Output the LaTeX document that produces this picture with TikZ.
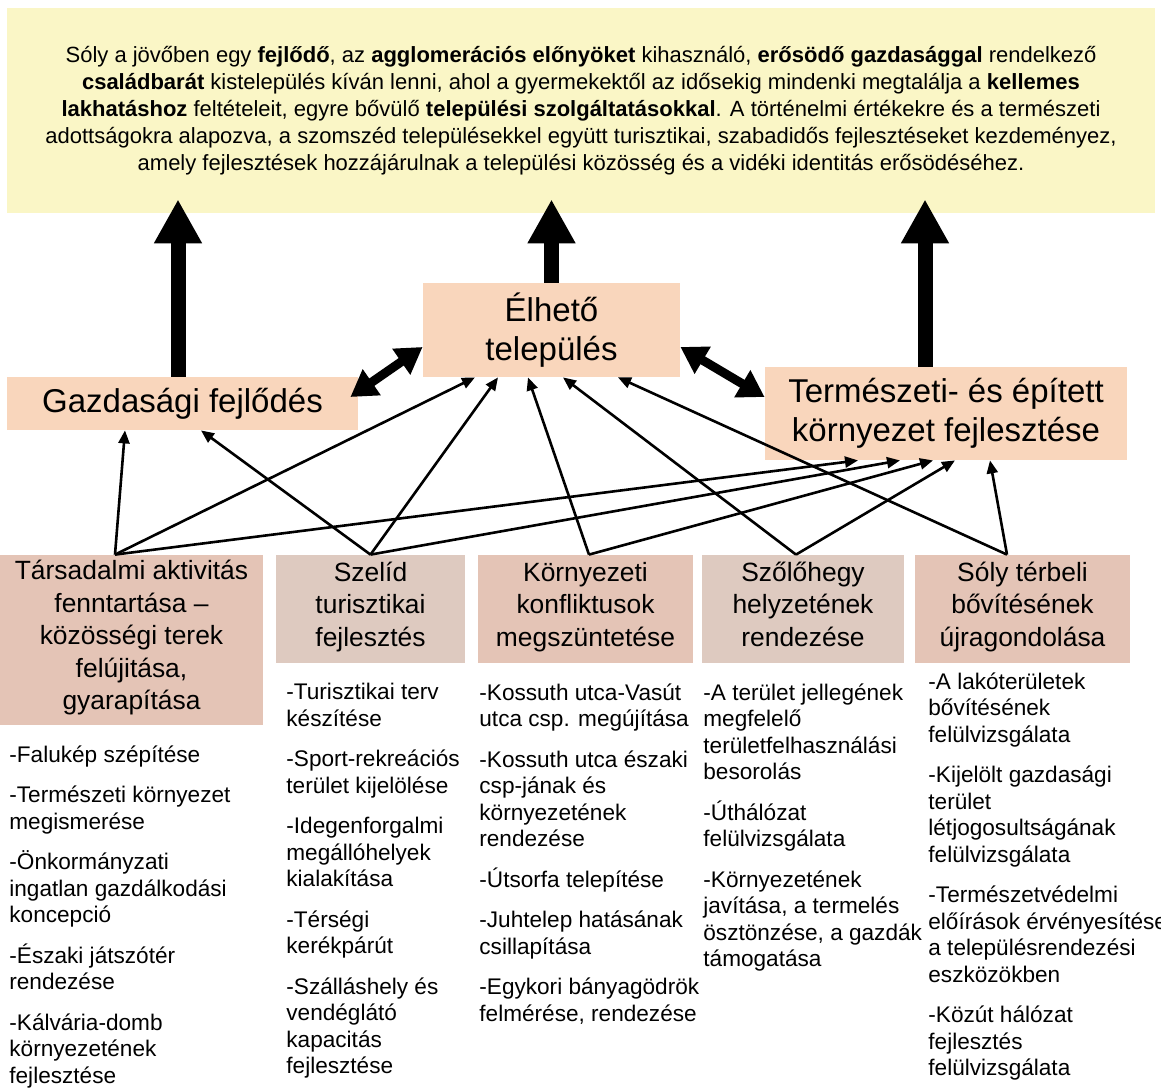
\documentclass[tikz,border=0pt]{standalone}
\usepackage{fontspec}
\setmainfont{Liberation Sans}
\usetikzlibrary{arrows.meta}
\definecolor{visionbg}{RGB}{250,246,198}
\definecolor{aimbg}{RGB}{249,214,188}
\definecolor{progbg}{RGB}{228,196,182}
\definecolor{progbgalt}{RGB}{222,202,192}

\begin{document}
\begin{tikzpicture}[x=0.5pt, y=-0.5pt,
    vision/.style = {fill=visionbg, minimum width=574pt, minimum height=102.5pt,
        inner sep=0pt, align=center, font=\fontsize{11}{13.5}\selectfont},
    aim/.style = {fill=aimbg, inner sep=0pt, align=center,
        font=\fontsize{16.5}{19.5}\selectfont},
    prog/.style = {fill=progbg, inner sep=0pt, align=center, minimum height=54pt,
        font=\fontsize{13.2}{16.25}\selectfont,
        execute at begin node=\strut, execute at end node=\strut},
    tasks/.style = {anchor=north west, inner sep=0pt, align=left,
        font=\fontsize{11.3}{13.25}\selectfont},
    link/.style = {-{Triangle[width=5.5pt,length=6.5pt]}, line width=1.3pt},
    mutual/.style = {{Triangle[width=15pt,length=13pt]}-{Triangle[width=15pt,length=13pt]},
        line width=4.5pt},
    lift/.style = {-{Triangle[width=22.5pt,length=22pt]}, line width=7.5pt,
        shorten >=-7pt}]
\useasboundingbox (0,0) rectangle (1161,1091);

\node[vision] (vision) at (581,110.5) {Sóly a jövőben egy \textbf{fejlődő}, az
    \textbf{agglomerációs előnyöket} kihasználó, \textbf{erősödő gazdasággal} rendelkező\\
    \textbf{családbarát} kistelepülés kíván lenni, ahol a gyermekektől az idősekig mindenki
    megtalálja a \textbf{kellemes}\\
    \textbf{lakhatáshoz} feltételeit, egyre bővülő \textbf{települési szolgáltatásokkal}.
    A történelmi értékekre és a természeti\\
    adottságokra alapozva, a szomszéd településekkel együtt turisztikai, szabadidős
    fejlesztéseket kezdeményez,\\
    amely fejlesztések hozzájárulnak a települési közösség és a vidéki identitás erősödéséhez.};

\node[aim, minimum width=175.5pt, minimum height=26.5pt] (gazd) at (182.5,403.5) {Gazdasági fejlődés};
\node[aim, minimum width=128.5pt, minimum height=47pt] (elh) at (551.5,330) {Élhető\\település};
\node[aim, minimum width=181pt, minimum height=46.5pt] (term) at (946,413.5)
    {Természeti- és épített\\környezet fejlesztése};

\node[prog, minimum width=131.5pt, minimum height=85pt] (tars) at (131.5,640)
    {Társadalmi aktivitás\\fenntartása –\\közösségi terek\\felújitása,\\gyarapítása};
\node[prog, fill=progbgalt, minimum width=94.5pt] (szel) at (370.5,609) {Szelíd\\turisztikai\\fejlesztés};
\node[prog, minimum width=107.5pt] (korny) at (585.5,609) {Környezeti\\konfliktusok\\megszüntetése};
\node[prog, fill=progbgalt, minimum width=101pt] (szolo) at (803,609) {Szőlőhegy\\helyzetének\\rendezése};
\node[prog, minimum width=107.5pt] (soly) at (1022.5,609) {Sóly térbeli\\bővítésének\\újragondolása};

\node[tasks] (tars list) at (9,745) {-Falukép szépítése\\[7pt]
    -Természeti környezet\\megismerése\\[7pt]
    -Önkormányzati\\ingatlan gazdálkodási\\koncepció\\[7pt]
    -Északi játszótér\\rendezése\\[7pt]
    -Kálvária-domb\\környezetének\\fejlesztése};
\node[tasks] (szel list) at (286,683) {-Turisztikai terv\\készítése\\[7pt]
    -Sport-rekreációs\\terület kijelölése\\[7pt]
    -Idegenforgalmi\\megállóhelyek\\kialakítása\\[7pt]
    -Térségi\\kerékpárút\\[7pt]
    -Szálláshely és\\vendéglátó\\kapacitás\\fejlesztése};
\node[tasks] (korny list) at (479,683) {-Kossuth utca-Vasút\\utca csp. megújítása\\[7pt]
    -Kossuth utca északi\\csp-jának és\\környezetének\\rendezése\\[7pt]
    -Útsorfa telepítése\\[7pt]
    -Juhtelep hatásának\\csillapítása\\[7pt]
    -Egykori bányagödrök\\felmérése, rendezése};
\node[tasks] (szolo list) at (703,683) {-A terület jellegének\\megfelelő\\területfelhasználási\\besorolás\\[7pt]
    -Úthálózat\\felülvizsgálata\\[7pt]
    -Környezetének\\javítása, a termelés\\ösztönzése, a gazdák\\támogatása};
\node[tasks] (soly list) at (928,672) {-A lakóterületek\\bővítésének\\felülvizsgálata\\[7pt]
    -Kijelölt gazdasági\\terület\\létjogosultságának\\felülvizsgálata\\[7pt]
    -Természetvédelmi\\előírások érvényesítése\\a településrendezési\\eszközökben\\[7pt]
    -Közút hálózat\\fejlesztés\\felülvizsgálata};

\draw[lift] ([xshift=-2.25pt]gazd.north) -- ([xshift=-2.25pt]gazd.north |- vision.south);
\draw[lift] (elh.north) -- (elh.north |- vision.south);
\draw[lift] ([xshift=-10.5pt]term.north) -- ([xshift=-10.5pt]term.north |- vision.south);

\draw[mutual] ([xshift=-4pt,yshift=3.25pt]gazd.east) -- ([yshift=-8.5pt]elh.west);
\draw[mutual] ([yshift=-8.5pt]elh.east) -- ([yshift=8.25pt]term.west);

\draw[link] ([xshift=-8.25pt]tars.north) -- ([xshift=-28.75pt]gazd.south);
\draw[link] ([xshift=-8.25pt]tars.north) -- ([xshift=-38.25pt]elh.south);
\draw[link] ([xshift=-8.25pt]tars.north) -- ([xshift=-44pt]term.south);
\draw[link] (szel.north) -- ([xshift=9.25pt]gazd.south);
\draw[link] (szel.north) -- ([xshift=-26.75pt]elh.south);
\draw[link] (szel.north) -- ([xshift=-23pt]term.south);
\draw[link] ([xshift=1.75pt]korny.north) -- ([xshift=-11.75pt]elh.south);
\draw[link] ([xshift=1.75pt]korny.north) -- ([xshift=-6.5pt]term.south);
\draw[link] ([xshift=-3.5pt]szolo.north) -- ([xshift=5.75pt]elh.south);
\draw[link] ([xshift=-3.5pt]szolo.north) -- ([xshift=4.5pt]term.south);
\draw[link] ([xshift=-7.75pt]soly.north) -- ([xshift=33.25pt]elh.south);
\draw[link] ([xshift=-7.75pt]soly.north) -- ([xshift=22pt]term.south);
\end{tikzpicture}
\end{document}
